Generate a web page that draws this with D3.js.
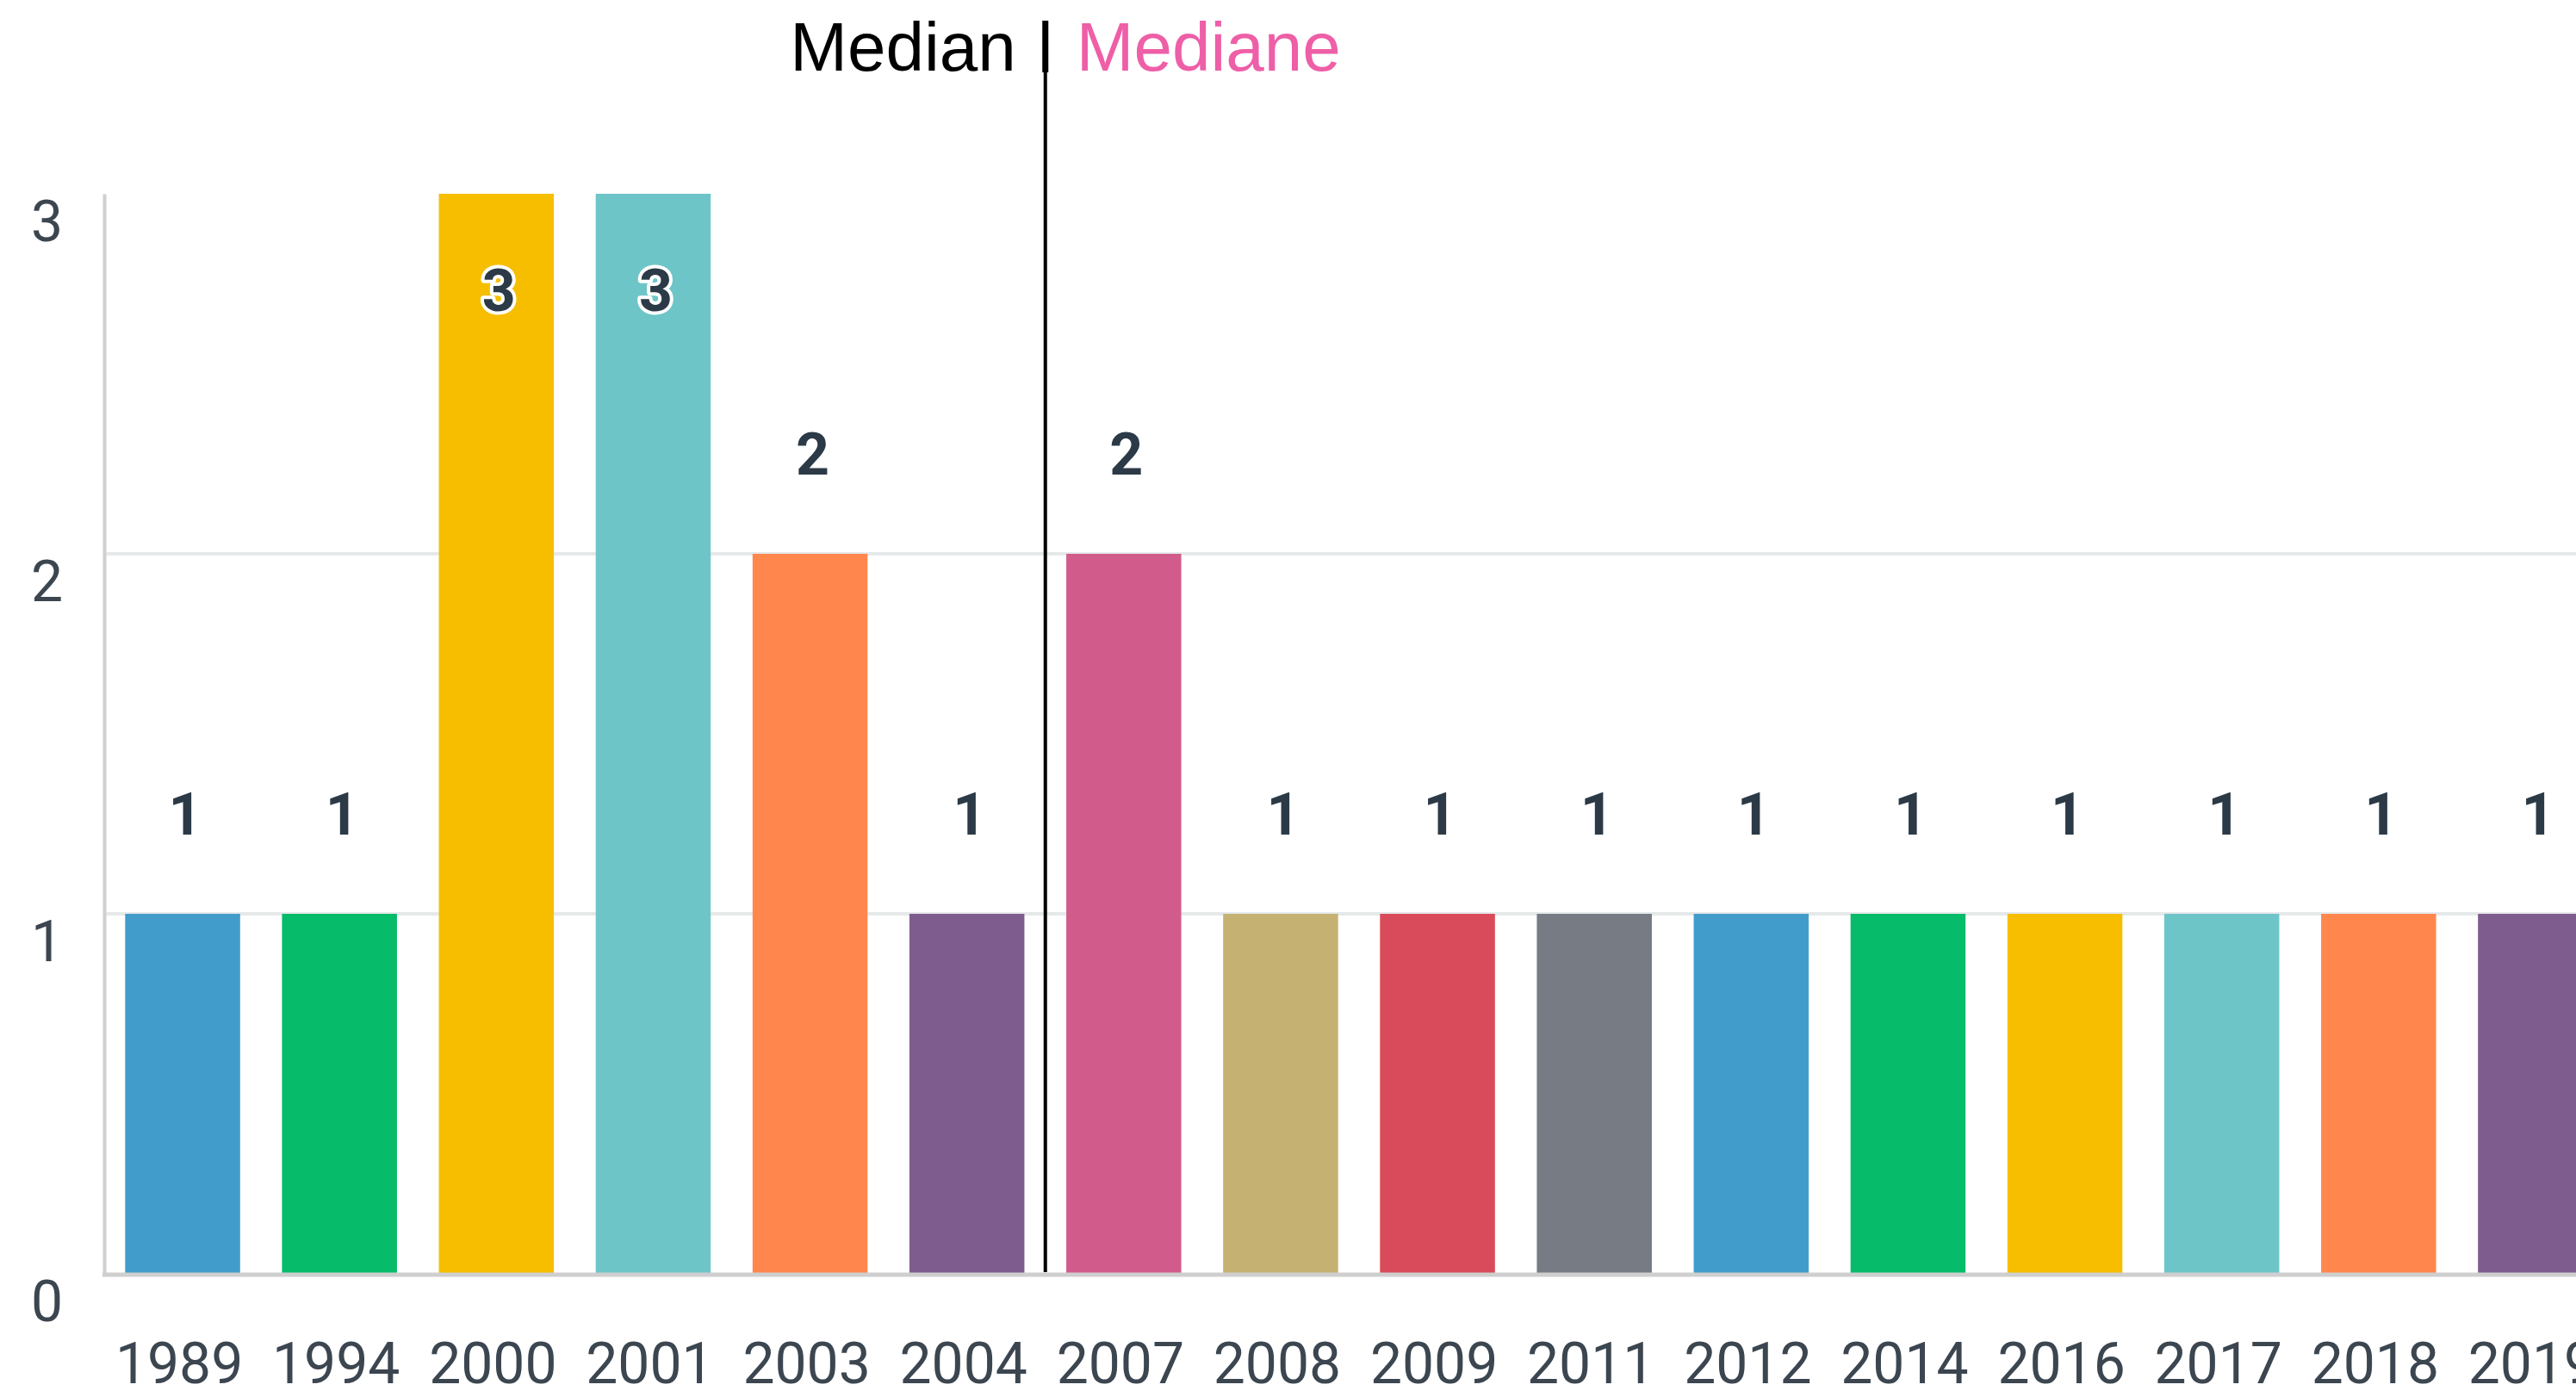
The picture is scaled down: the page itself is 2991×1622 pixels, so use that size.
<!DOCTYPE html>
<html>
<head>
<meta charset="utf-8">
<script src="https://cdn.jsdelivr.net/npm/d3@7"></script>
<style>
  html, body { margin: 0; padding: 0; background: #fff; overflow: hidden; }
  svg { display: block; }
</style>
</head>
<body>
<svg id="chart" width="2991" height="1622"></svg>
<script>
// data
const years = ['1989', '1994', '2000', '2001', '2003', '2004', '2007', '2008',
               '2009', '2011', '2012', '2014', '2016', '2017', '2018', '2019'];
const counts = [1, 1, 3, 3, 2, 1, 2, 1, 1, 1, 1, 1, 1, 1, 1, 1];
const barColors = ['#429ccb', '#06bb6a', '#f7be00', '#6ec5c8', '#ff874d', '#7f5c8e',
                   '#d15c8c', '#c5b273', '#d94b5a', '#777b83', '#429ccb', '#06bb6a',
                   '#f7be00', '#6ec5c8', '#ff874d', '#7f5c8e'];
const yTicks = [0, 1, 2, 3];
const gridTicks = [1, 2];
const medianBetween = ['2004', '2007'];
const titleLeft = 'Median';
const titleRight = 'Mediane';

const svg = d3.select('#chart');
const W = 2991, H = 1622;

const plotLeft = 121, plotRight = 3035;   // plot runs past the window, last bar gets cut
const plotTop = 225, plotBottom = 1479;

const x = d3.scaleBand()
    .domain(years)
    .range([plotLeft, plotRight])
    .paddingInner(0.267)
    .paddingOuter(0.1335);

const y = d3.scaleLinear()
    .domain([0, 3])
    .range([plotBottom, plotTop]);

// gridlines
svg.append('g')
    .selectAll('line')
    .data(gridTicks)
    .join('line')
    .attr('x1', plotLeft)
    .attr('x2', W)
    .attr('y1', d => y(d))
    .attr('y2', d => y(d))
    .attr('stroke', '#e6e9ea')
    .attr('stroke-width', 4);

// y axis
const yAxis = svg.append('g')
    .attr('transform', `translate(${plotLeft},0)`)
    .call(d3.axisLeft(y).tickValues(yTicks).tickSize(0).tickPadding(48).tickFormat(d3.format('d')));
yAxis.select('.domain').attr('stroke', '#cfcfcf').attr('stroke-width', 4);
yAxis.selectAll('text')
    .attr('dy', '0.82em')
    .attr('font-family', 'Roboto, sans-serif')
    .attr('font-size', 66)
    .attr('fill', '#3c4650');

// bars
svg.append('g')
    .selectAll('rect')
    .data(years)
    .join('rect')
    .attr('x', d => x(d))
    .attr('y', (d, i) => y(counts[i]))
    .attr('width', x.bandwidth())
    .attr('height', (d, i) => y(0) - y(counts[i]))
    .attr('fill', (d, i) => barColors[i]);

// x axis
const xAxis = svg.append('g')
    .attr('transform', `translate(0,${plotBottom})`)
    .call(d3.axisBottom(x).tickSize(0).tickPadding(0));
xAxis.select('.domain').remove();
svg.append('line')
    .attr('x1', plotLeft - 2)
    .attr('x2', W)
    .attr('y1', plotBottom + 1)
    .attr('y2', plotBottom + 1)
    .attr('stroke', '#cfcfcf')
    .attr('stroke-width', 5);
xAxis.selectAll('text')
    .attr('y', 127)
    .attr('dy', 0)
    .attr('dx', -4)
    .attr('font-family', 'Roboto, sans-serif')
    .attr('font-size', 66)
    .attr('fill', '#3c4650');

// value labels, pushed inside the bar when they would leave the plot
svg.append('g')
    .selectAll('text')
    .data(years)
    .join('text')
    .attr('x', d => x(d) + x.bandwidth() / 2 + 3)
    .attr('y', (d, i) => {
        const ly = y(counts[i]) - 92;
        return ly - 50 < plotTop ? y(counts[i]) + 136 : ly;
    })
    .attr('text-anchor', 'middle')
    .attr('font-family', 'Roboto, sans-serif')
    .attr('font-weight', 700)
    .attr('font-size', 68)
    .attr('fill', '#2c3a47')
    .attr('stroke', '#fff')
    .attr('stroke-width', 8)
    .attr('stroke-linejoin', 'round')
    .attr('paint-order', 'stroke')
    .text((d, i) => counts[i]);

// median marker
const mx = (x(medianBetween[0]) + x.bandwidth() + x(medianBetween[1])) / 2;
svg.append('line')
    .attr('x1', mx)
    .attr('x2', mx)
    .attr('y1', 84)
    .attr('y2', plotBottom - 2)
    .attr('stroke', '#000')
    .attr('stroke-width', 4);

svg.append('rect')
    .attr('x', mx - 3.5)
    .attr('y', 24)
    .attr('width', 7)
    .attr('height', 60)
    .attr('fill', '#000');

svg.append('text')
    .attr('x', mx - 34)
    .attr('y', 82)
    .attr('text-anchor', 'end')
    .attr('font-family', '"Liberation Sans", Arial, sans-serif')
    .attr('font-size', 80)
    .attr('fill', '#000')
    .text(titleLeft);

svg.append('text')
    .attr('x', mx + 36)
    .attr('y', 82)
    .attr('font-family', '"Liberation Sans", Arial, sans-serif')
    .attr('font-size', 80)
    .attr('fill', '#ee5fa7')
    .text(titleRight);
</script>
</body>
</html>
